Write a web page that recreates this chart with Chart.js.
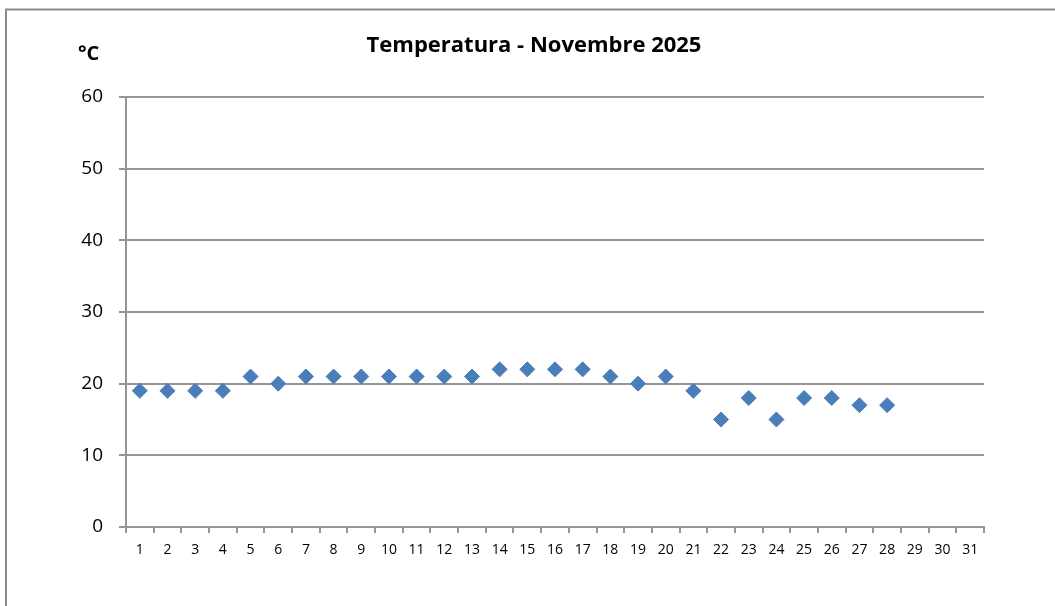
<!DOCTYPE html>
<html>
<head>
<meta charset="utf-8">
<script src="https://cdn.jsdelivr.net/npm/chart.js@4/dist/chart.umd.min.js"></script>
<style>
    html, body { margin: 0; padding: 0; background: #fff; }
    #wrap { width: 1055px; height: 606px; position: relative; }
</style>
</head>
<body>
<div id="wrap"><canvas id="tempChart"></canvas></div>
<script>
const days = ['1','2','3','4','5','6','7','8','9','10','11','12','13','14','15','16',
              '17','18','19','20','21','22','23','24','25','26','27','28','29','30','31'];
const temperatures = [19, 19, 19, 19, 21, 20, 21, 21, 21, 21, 21, 21, 21, 22, 22, 22,
                      22, 21, 20, 21, 19, 15, 18, 15, 18, 18, 17, 17, null, null, null];
const yTicks = [0, 10, 20, 30, 40, 50, 60];

const chartTitle = 'Temperatura - Novembre 2025';
const unitLabel = '°C';

const axisGray = '#959595';
const markerBlue = '#4a7ebb';

// cornice grigia + titolo + unità di misura
const chartText = {
    id: 'chartText',
    beforeDraw(chart) {
        const ctx = chart.ctx;
        ctx.save();
        ctx.fillStyle = '#fff';
        ctx.fillRect(0, 0, chart.width, chart.height);
        ctx.strokeStyle = '#8c8c8c';
        ctx.lineWidth = 2;
        ctx.beginPath();
        ctx.moveTo(6, chart.height + 2);
        ctx.lineTo(6, 9.5);
        ctx.lineTo(chart.width + 2, 9.5);
        ctx.stroke();
        ctx.restore();
    },
    afterDraw(chart) {
        const ctx = chart.ctx;
        ctx.save();
        ctx.fillStyle = '#000';
        ctx.textBaseline = 'middle';
        ctx.font = 'bold 22px "Open Sans"';
        ctx.textAlign = 'center';
        ctx.fillText(chartTitle, 534, 46);
        ctx.font = 'bold 20px "Open Sans"';
        ctx.textAlign = 'left';
        ctx.fillText(unitLabel, 78, 54);
        ctx.restore();
    }
};

const ctx = document.getElementById('tempChart').getContext('2d');
new Chart(ctx, {
    type: 'line',
    data: {
        labels: days,
        datasets: [{
            label: 'Temperatura',
            data: temperatures,
            showLine: false,
            pointStyle: 'rectRot',
            pointRadius: 7.5,
            pointHoverRadius: 7.5,
            pointBackgroundColor: markerBlue,
            pointBorderColor: markerBlue,
            pointBorderWidth: 1
        }]
    },
    options: {
        responsive: true,
        maintainAspectRatio: false,
        animation: false,
        layout: {
            padding: { left: 0, right: 71, top: 97, bottom: 0 }
        },
        plugins: {
            legend: { display: false },
            title: { display: false },
            tooltip: { enabled: false }
        },
        scales: {
            x: {
                type: 'category',
                offset: true,
                afterFit: (scale) => { scale.height = 79; },
                grid: {
                    offset: true,
                    drawOnChartArea: false,
                    drawTicks: true,
                    tickLength: 6,
                    color: axisGray,
                    lineWidth: 2
                },
                border: { color: axisGray, width: 2 },
                ticks: {
                    color: '#000',
                    font: { family: 'Open Sans', size: 14 },
                    padding: 9,
                    maxRotation: 0,
                    autoSkip: false
                }
            },
            y: {
                min: 0,
                max: 60,
                afterFit: (scale) => { scale.width = 126; },
                afterBuildTicks: (scale) => { scale.ticks = yTicks.map(v => ({ value: v })); },
                grid: {
                    color: axisGray,
                    lineWidth: 2,
                    drawTicks: true,
                    tickLength: 7
                },
                border: { color: axisGray, width: 2 },
                ticks: {
                    color: '#000',
                    font: { family: 'Open Sans', size: 19 },
                    padding: 16
                }
            }
        }
    },
    plugins: [chartText]
});
</script>
</body>
</html>
